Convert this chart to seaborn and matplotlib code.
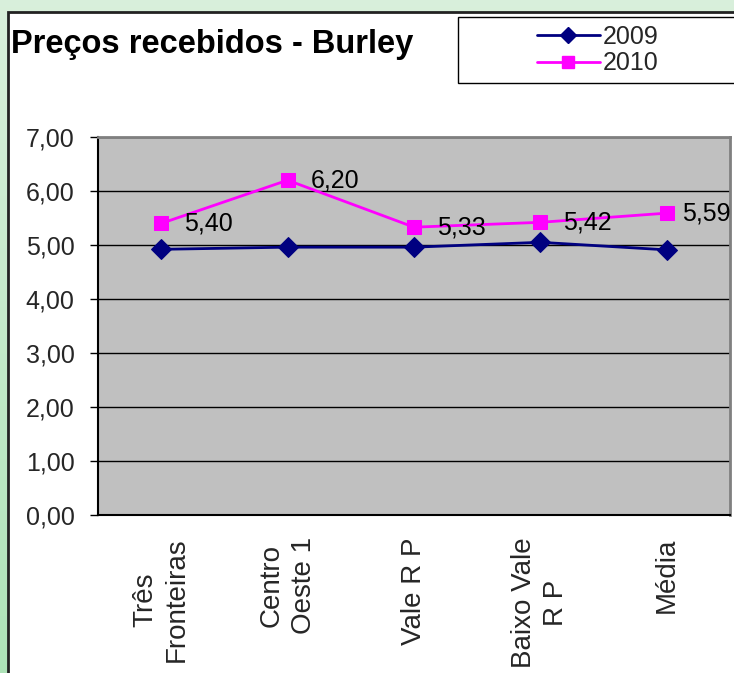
import numpy as np
import pandas as pd
import matplotlib
matplotlib.use("Agg")
import matplotlib.pyplot as plt
from matplotlib.patches import Rectangle
from matplotlib.lines import Line2D
import seaborn as sns

# ---- data ----
categories = ["Três\nFronteiras", "Centro\nOeste 1", "Vale R P", "Baixo Vale\nR P", "Média"]
prices_2009 = [4.92, 4.96, 4.96, 5.05, 4.91]
prices_2010 = [5.40, 6.20, 5.33, 5.42, 5.59]
series_names = ["2009", "2010"]
y_ticks = [0, 1, 2, 3, 4, 5, 6, 7]
title = "Preços recebidos - Burley"

sns.set_theme(style="white")
plt.rcParams["font.family"] = ["Liberation Sans", "DejaVu Sans"]

W, H = 734, 673
fig = plt.figure(figsize=(W / 100, H / 100), dpi=100)

def fx(px):
    return px / W

def fy(py):
    return 1 - py / H

# green backdrop with a soft vertical gradient
bg = fig.add_axes([0, 0, 1, 1], zorder=-10)
grad = np.linspace(0, 1, 256).reshape(-1, 1)
top_c = np.array([0.85, 0.94, 0.86])
bot_c = np.array([0.68, 0.89, 0.72])
img = top_c[None, None, :] * (1 - grad[..., None]) + bot_c[None, None, :] * grad[..., None]
bg.imshow(img, aspect="auto", extent=[0, 1, 0, 1])
bg.set_axis_off()

# white chart panel with dark border
fig.patches.append(Rectangle((fx(8), fy(700)), fx(740) - fx(8), fy(12) - fy(700),
                             transform=fig.transFigure, facecolor="white",
                             edgecolor="#222222", linewidth=2, zorder=-5))

# plot area
ax = fig.add_axes([fx(98), fy(515), fx(730) - fx(98), fy(137) - fy(515)])
ax.set_facecolor("#C0C0C0")

df = pd.DataFrame({
    "pos": list(range(len(categories))) * 2,
    "valor": prices_2009 + prices_2010,
    "ano": [series_names[0]] * len(categories) + [series_names[1]] * len(categories),
})

colors = {"2009": "#000080", "2010": "#FF00FF"}
markers = {"2009": "D", "2010": "s"}
sizes = {"2009": 10, "2010": 9.5}
for name in series_names:
    sub = df[df["ano"] == name]
    sns.lineplot(data=sub, x="pos", y="valor", ax=ax, color=colors[name],
                 marker=markers[name], markersize=sizes[name],
                 markeredgecolor=colors[name], linewidth=2, legend=False,
                 zorder=3)

# value labels for 2010 (the last one is pulled in to stay inside the panel)
for i, v in enumerate(prices_2010):
    dx = 16.5 if i < len(prices_2010) - 1 else 11
    ax.annotate(f"{v:.2f}".replace(".", ","), (i, v), xytext=(dx, 0),
                textcoords="offset points", ha="left", va="center",
                fontsize=18, color="black", annotation_clip=False, zorder=4)

ax.set_xlim(-0.5, len(categories) - 0.5)
ax.set_ylim(0, 7)
ax.set_yticks(y_ticks)
ax.set_yticklabels([f"{t:.2f}".replace(".", ",") for t in y_ticks], fontsize=18)
ax.set_xticks(range(len(categories)))
ax.set_xticklabels(categories, rotation=90, fontsize=20, linespacing=1.3)
ax.set_xticks(np.arange(-0.5, len(categories), 1.0), minor=True)
ax.tick_params(axis="x", which="major", length=0, pad=16)
ax.tick_params(axis="x", which="minor", length=6, width=1, color="black", direction="out")
ax.tick_params(axis="y", which="major", length=6, width=1, color="black",
               direction="out", pad=11, left=True)
ax.set_xlabel("")
ax.set_ylabel("")
ax.grid(axis="y", color="black", linewidth=1)
ax.grid(axis="x", visible=False)
ax.set_axisbelow(True)

for side in ["left", "bottom"]:
    ax.spines[side].set_color("black")
    ax.spines[side].set_linewidth(1.5)
for side in ["top", "right"]:
    ax.spines[side].set_color("#808080")
    ax.spines[side].set_linewidth(2)
    ax.spines[side].set_visible(True)

# title
fig.text(fx(11), fy(53), title, ha="left", va="baseline", fontsize=23.5,
         fontweight="bold", color="black")

# legend box
fig.patches.append(Rectangle((fx(458), fy(83)), fx(760) - fx(458), fy(17) - fy(83),
                             transform=fig.transFigure, facecolor="white",
                             edgecolor="black", linewidth=1, zorder=5))
handles = [Line2D([], [], color=colors[n], marker=markers[n], markersize=sizes[n] * 0.85,
                  linewidth=2) for n in series_names]
leg = fig.legend(handles, series_names, loc="center", bbox_to_anchor=(fx(598), fy(50)),
                 frameon=False, fontsize=18, handlelength=2.5, handletextpad=0.15,
                 labelspacing=0.12, borderpad=0)
leg.set_zorder(6)

fig.savefig("out.png", dpi=100)
